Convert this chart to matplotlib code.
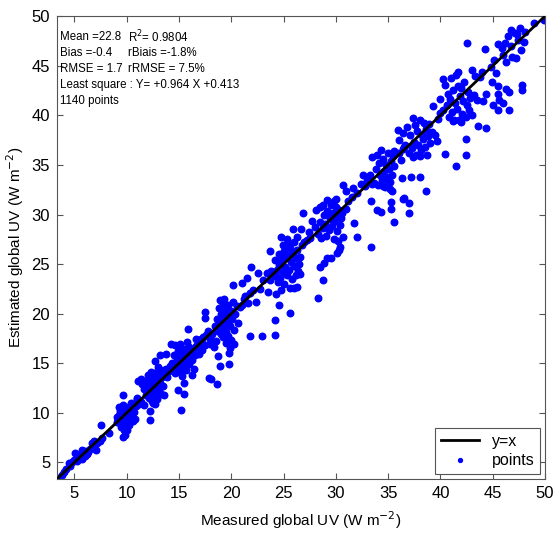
import matplotlib.pyplot as plt
import numpy as np

plt.rcParams['font.family'] = ['Liberation Sans', 'DejaVu Sans']

# measured / estimated UV, read off the picture cluster by cluster (W m-2)
pts_05 = [(3.4, 3.4), (3.8, 3.7), (4.0, 4.0), (4.2, 4.3), (4.5, 4.9), (4.8, 5.0), (5.0, 5.2),
          (5.1, 6.0), (5.3, 5.4), (5.5, 5.6), (5.6, 5.9), (5.7, 6.3), (5.8, 5.5), (5.9, 6.0),
          (6.0, 5.7), (6.1, 6.2), (6.2, 5.9), (5.4, 5.8), (5.7, 5.3), (6.3, 6.1), (6.5, 6.4),
          (6.7, 7.0), (6.8, 6.6), (7.0, 7.1), (7.1, 6.3), (7.2, 7.0), (7.4, 7.2), (7.5, 8.8),
          (7.6, 7.5), (8.3, 8.0), (6.9, 7.2), (4.6, 4.6), (5.2, 5.1)]
pts_10 = [(9.1, 9.1), (9.2, 9.3), (9.3, 9.8), (9.4, 10.2), (9.4, 9.0), (9.5, 10.6), (9.5, 9.5),
          (9.6, 9.8), (9.6, 10.8), (9.7, 9.2), (9.7, 10.1), (9.8, 9.6), (9.8, 10.4), (9.9, 9.0),
          (9.6, 11.85), (10.0, 10.0), (10.0, 9.3), (10.1, 10.5), (10.1, 9.7), (10.2, 8.8),
          (10.2, 10.2), (10.3, 9.5), (10.3, 10.7), (10.4, 9.9), (10.5, 10.3), (10.6, 9.2),
          (10.6, 10.8), (10.8, 9.4), (9.6, 7.6), (9.8, 7.8), (10.0, 8.3), (9.5, 8.6), (9.7, 8.3),
          (9.3, 10.6), (9.1, 9.6), (10.4, 11.0), (10.9, 10.7), (11.2, 10.9), (11.4, 11.1),
          (11.0, 11.5), (9.4, 9.4), (10.7, 10.1), (9.9, 10.3), (10.1, 9.1), (11.0, 11.4)]
pts_12 = [(11.7, 12.4), (11.8, 11.8), (11.9, 13.2), (12.0, 12.1), (12.0, 12.9), (12.1, 11.5),
          (12.2, 13.5), (12.3, 12.3), (12.4, 11.2), (12.4, 13.0), (12.5, 12.6), (12.6, 11.7),
          (12.6, 14.0), (12.7, 12.2), (12.8, 13.3), (12.9, 11.4), (12.9, 12.8), (13.0, 13.9),
          (13.1, 12.3), (13.2, 13.0), (13.3, 11.9), (13.4, 13.6), (13.5, 12.7), (13.6, 14.3),
          (12.3, 14.1), (12.0, 13.8), (11.5, 12.9), (11.4, 13.4), (13.8, 14.4), (14.0, 14.2),
          (12.7, 10.9), (12.5, 11.0), (11.7, 10.8), (12.25, 10.2), (12.25, 9.3), (11.1, 13.2),
          (12.7, 15.2), (13.0, 14.6), (13.1, 14.4), (11.3, 11.2), (13.6, 11.8), (13.9, 13.6),
          (14.1, 14.7)]
pts_15 = [(14.3, 15.0), (14.4, 14.6), (14.5, 15.8), (14.6, 16.8), (14.7, 14.2), (14.8, 15.4),
          (14.9, 16.2), (15.0, 14.8), (15.0, 15.6), (15.1, 16.9), (15.2, 15.1), (15.2, 14.1),
          (15.3, 16.0), (15.4, 15.4), (15.4, 14.6), (15.5, 16.4), (15.6, 15.0), (15.6, 15.8),
          (15.7, 14.3), (15.8, 16.2), (15.9, 15.5), (16.0, 14.9), (16.0, 16.6), (16.1, 15.9),
          (16.2, 15.3), (16.3, 16.3), (16.4, 14.4), (16.5, 15.8), (16.6, 16.7), (16.8, 16.9),
          (17.0, 17.1), (17.2, 17.0), (15.3, 13.7), (16.2, 13.8), (14.6, 14.0), (15.8, 17.1),
          (14.2, 16.9), (13.2, 15.8), (13.8, 15.9), (16.9, 15.9), (16.6, 17.4), (16.8, 16.6),
          (17.1, 17.4), (14.9, 12.35), (15.45, 13.0), (15.5, 11.9), (15.2, 10.3), (15.85, 18.5),
          (17.9, 13.5), (18.1, 13.4), (18.6, 12.95)]
pts_20 = [(17.3, 17.6), (17.6, 17.9), (17.8, 18.3), (18.0, 17.4), (18.2, 18.0), (18.4, 18.8),
          (18.5, 17.2), (18.6, 19.5), (18.7, 18.3), (18.8, 20.6), (18.9, 19.0), (19.0, 18.0),
          (19.0, 20.0), (19.1, 19.4), (19.2, 17.6), (19.2, 21.0), (19.3, 18.6), (19.4, 19.9),
          (19.5, 20.5), (19.5, 18.2), (19.6, 19.2), (19.7, 20.9), (19.7, 17.8), (19.8, 19.7),
          (19.9, 18.8), (20.0, 20.3), (20.1, 19.5), (20.2, 21.2), (20.3, 18.4), (20.4, 20.0),
          (20.5, 20.8), (20.6, 19.1), (20.8, 20.7), (21.0, 20.9), (19.3, 21.5), (18.95, 21.4),
          (20.0, 17.3), (19.5, 17.0), (19.8, 17.3), (17.45, 20.2), (17.45, 19.6), (18.7, 15.7),
          (18.95, 14.7), (19.8, 16.0), (19.8, 14.9), (18.3, 16.6), (17.2, 16.3), (17.5, 16.8),
          (18.0, 16.9), (20.3, 16.9), (19.9, 16.5)]
pts_22 = [(21.2, 21.5), (21.3, 21.75), (21.8, 22.1), (22.1, 22.4), (22.4, 21.2), (23.0, 23.4),
          (23.4, 24.1), (23.8, 24.3), (24.2, 23.8), (20.2, 22.9), (21.0, 23.1), (21.5, 23.6),
          (21.9, 24.7), (22.6, 24.1), (21.8, 17.7), (22.9, 17.8), (24.2, 17.9), (24.2, 19.4),
          (25.6, 20.1), (24.6, 20.9), (24.3, 22.0), (23.5, 22.2), (23.7, 23.4), (22.7, 22.5),
          (21.6, 21.1)]
pts_25 = [(24.3, 23.8), (24.4, 24.4), (24.5, 23.2), (24.6, 24.9), (24.7, 23.6), (24.8, 25.5),
          (24.9, 24.2), (25.0, 26.3), (25.0, 23.0), (25.1, 24.7), (25.2, 26.8), (25.3, 23.9),
          (25.4, 27.1), (25.5, 24.4), (25.6, 26.6), (25.7, 25.2), (25.8, 23.5), (25.9, 26.0),
          (26.0, 24.8), (26.1, 25.6), (26.2, 23.9), (26.3, 26.4), (26.4, 24.3), (26.5, 25.0),
          (24.6, 26.0), (24.9, 26.9), (25.3, 27.5), (26.0, 27.2), (26.3, 27.7), (24.2, 25.4),
          (26.6, 24.0), (26.0, 22.6), (26.3, 22.7), (25.6, 22.6), (24.8, 22.4), (23.7, 26.3),
          (24.8, 27.7), (25.9, 28.5), (26.7, 28.5), (26.9, 30.2), (25.7, 26.0), (24.9, 25.7),
          (25.1, 25.9), (26.6, 25.7), (26.8, 26.9), (27.0, 27.2), (27.5, 27.6)]
pts_30 = [(28.3, 28.0), (28.5, 29.2), (28.6, 27.6), (28.8, 28.6), (28.9, 30.0), (29.0, 29.0),
          (29.1, 27.8), (29.2, 30.4), (29.3, 28.4), (29.4, 29.5), (29.5, 31.0), (29.6, 28.8),
          (29.7, 30.2), (29.8, 27.5), (29.9, 29.3), (30.0, 30.8), (30.1, 28.3), (30.2, 29.8),
          (30.3, 30.5), (30.4, 28.9), (30.5, 29.6), (30.6, 30.2), (29.2, 31.5), (29.8, 31.4),
          (30.0, 31.6), (30.7, 27.7), (30.2, 27.3), (28.1, 30.5), (27.7, 29.3), (28.5, 30.8),
          (28.8, 31.0), (27.4, 28.2), (27.2, 27.4), (28.0, 28.7), (29.5, 29.9), (30.4, 26.7),
          (30.3, 26.45), (30.1, 26.1), (29.5, 25.6), (29.2, 25.6), (28.9, 25.1), (28.5, 24.7),
          (28.3, 21.6), (28.8, 23.4), (31.7, 29.1), (32.0, 27.7), (33.4, 26.7), (31.0, 30.6),
          (31.2, 31.4), (31.5, 31.8)]
pts_34 = [(30.7, 33.0), (31.0, 32.4), (31.6, 32.7), (32.0, 32.2), (32.4, 33.1), (32.6, 34.0),
          (33.0, 33.5), (33.3, 34.0), (33.5, 35.8), (33.6, 33.2), (33.8, 34.6), (33.9, 36.0),
          (34.0, 33.0), (34.1, 35.2), (34.2, 34.0), (34.3, 36.5), (34.4, 33.5), (34.5, 35.6),
          (34.6, 34.4), (34.7, 32.8), (34.8, 35.0), (34.9, 33.8), (35.0, 36.2), (35.1, 34.6),
          (35.2, 33.3), (35.3, 35.4), (35.4, 34.0), (35.5, 35.9), (35.6, 34.9), (35.2, 32.6),
          (34.5, 32.9), (35.6, 36.4), (33.5, 33.1), (36.0, 36.2), (35.9, 38.5), (36.4, 36.6),
          (36.2, 35.5), (33.4, 31.4), (33.9, 30.5), (34.3, 30.3), (35.3, 31.3), (35.3, 30.6),
          (35.6, 29.2), (36.4, 31.6), (36.5, 31.7), (37.0, 31.2), (37.0, 30.2), (38.6, 32.4),
          (37.2, 33.8), (38.0, 33.8), (35.0, 33.5), (36.3, 33.7), (35.4, 32.4), (32.8, 32.9)]
pts_38 = [(36.6, 37.0), (36.8, 38.8), (37.0, 36.2), (37.1, 38.0), (37.25, 36.7), (37.35, 39.7),
          (37.5, 37.3), (37.6, 39.0), (37.7, 36.0), (37.8, 38.4), (37.9, 37.0), (38.0, 39.5),
          (38.1, 36.5), (38.2, 38.0), (38.3, 37.6), (38.4, 39.2), (38.5, 36.8), (38.6, 38.6),
          (38.7, 36.0), (38.8, 37.9), (38.9, 39.1), (39.0, 37.2), (39.3, 40.9), (39.2, 38.3),
          (39.65, 37.4), (39.5, 38.0), (37.4, 35.8), (38.0, 35.9), (36.4, 38.2), (36.0, 37.5),
          (40.4, 36.1), (41.5, 34.85), (42.45, 37.6), (42.45, 36.0), (43.6, 38.9), (44.4, 38.7),
          (36.5, 36.8), (39.8, 39.6)]
pts_42 = [(40.4, 43.1), (40.6, 41.0), (40.7, 42.2), (40.8, 39.8), (40.9, 41.6), (41.0, 43.8),
          (41.1, 40.3), (41.2, 42.6), (41.3, 39.5), (41.4, 41.2), (41.5, 44.1), (41.6, 40.6),
          (41.7, 43.0), (41.8, 39.5), (41.9, 41.9), (42.0, 42.8), (42.1, 40.1), (42.2, 41.4),
          (42.3, 43.4), (42.4, 39.8), (42.5, 41.0), (42.6, 42.4), (42.7, 40.5), (42.8, 41.7),
          (43.0, 44.6), (43.3, 44.0), (43.0, 40.0), (43.2, 42.0), (40.0, 41.6), (40.2, 40.5),
          (42.5, 47.3), (41.7, 44.4), (40.2, 43.7), (43.5, 41.55), (41.2, 39.4), (42.0, 39.3),
          (40.0, 40.2)]
pts_46 = [(44.3, 46.7), (44.85, 44.9), (45.3, 44.3), (45.5, 47.2), (45.9, 46.8), (46.2, 47.3),
          (46.5, 48.0), (46.7, 46.95), (46.7, 48.6), (47.1, 48.3), (47.3, 48.2), (47.6, 48.8),
          (47.95, 47.4), (48.1, 48.4), (47.7, 46.6), (48.9, 49.3), (49.9, 49.6), (46.3, 45.4),
          (46.8, 45.9), (47.2, 45.8), (46.0, 46.1), (44.1, 41.4), (44.9, 43.4), (45.5, 42.95),
          (46.3, 42.7), (46.6, 42.4), (47.8, 43.05), (47.8, 42.55), (44.4, 42.2), (45.5, 42.2),
          (45.6, 41.5), (45.0, 41.0), (46.0, 41.2), (45.5, 40.5), (46.55, 40.5), (43.8, 43.9),
          (44.0, 44.4), (45.1, 45.6), (47.4, 47.6)]

clusters = (pts_05, pts_10, pts_12, pts_15, pts_20, pts_22, pts_25,
            pts_30, pts_34, pts_38, pts_42, pts_46)
measured = np.array([p[0] for c in clusters for p in c])
estimated = np.array([p[1] for c in clusters for p in c])

axis_lim = [3.35, 50]
ticks = [5, 10, 15, 20, 25, 30, 35, 40, 45, 50]

fig = plt.figure(figsize=(5.55, 5.38), dpi=100)
ax = fig.add_axes([0.103, 0.110, 0.879, 0.860])

ax.plot(axis_lim, axis_lim, color='black', lw=2, label='y=x', zorder=3)
ax.plot(measured, estimated, 'o', color='blue', ms=4.7, mec='blue', label='points', zorder=2)

ax.set_xlim(axis_lim)
ax.set_ylim(axis_lim)
ax.set_xticks(ticks)
ax.set_yticks(ticks)
ax.tick_params(direction='in', top=True, right=True, labelsize=12, length=4,
               color='#555555', pad=5)
for s in ax.spines.values():
    s.set_color('#555555')

ax.set_xlabel('Measured global UV (W m$^{-2}$)', fontsize=11, labelpad=6)
ax.set_ylabel('Estimated global UV (W m$^{-2}$)', fontsize=11, labelpad=4)

# statistics box text, top left
rows = [('Mean =22.8', 'R$^2$= 0.9804'),
        ('Bias =-0.4', 'rBiais =-1.8%'),
        ('RMSE = 1.7', 'rRMSE = 7.5%')]
for i, (a, b) in enumerate(rows):
    yy = 0.955 - i * 0.0345
    ax.text(0.005, yy, a, transform=ax.transAxes, fontsize=8.3, va='center')
    ax.text(0.145, yy, b, transform=ax.transAxes, fontsize=8.3, va='center')
ax.text(0.005, 0.955 - 3 * 0.0345, 'Least square : Y= +0.964 X +0.413',
        transform=ax.transAxes, fontsize=8.3, va='center')
ax.text(0.005, 0.955 - 4 * 0.0345, '1140 points', transform=ax.transAxes, fontsize=8.3, va='center')

leg = ax.legend(loc='lower right', fontsize=11.5, fancybox=False, edgecolor='#555555',
                framealpha=1, borderpad=0.35, handlelength=2.4, markerscale=0.6,
                borderaxespad=0.3, labelspacing=0.3)
leg.get_frame().set_linewidth(0.8)

fig.savefig('out.png', dpi=100)
